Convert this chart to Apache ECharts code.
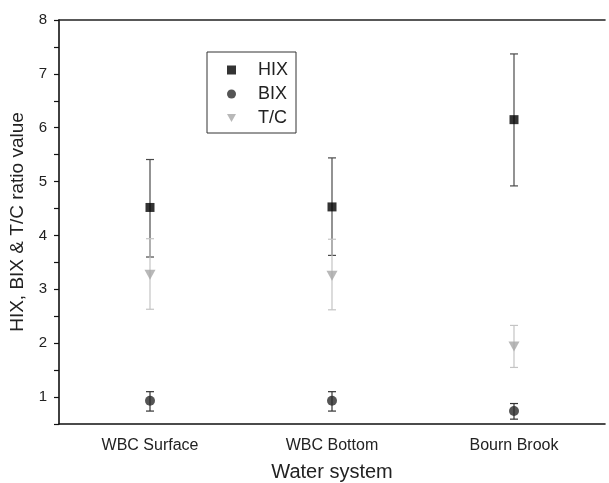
<!DOCTYPE html>
<html>
<head>
<meta charset="utf-8">
<script src="https://cdn.jsdelivr.net/npm/echarts@6/dist/echarts.min.js"></script>
<style>html,body{margin:0;padding:0;background:#fff;}#c{width:609px;height:483px;}</style>
</head>
<body>
<div id="c"></div>
<script>
const categories = ['WBC Surface', 'WBC Bottom', 'Bourn Brook'];
const hix = [4.52, 4.53, 6.15];
const hixLow = [3.60, 3.63, 4.92];
const hixHigh = [5.41, 5.44, 7.37];
const bix = [0.93, 0.93, 0.74];
const bixLow = [0.74, 0.74, 0.59];
const bixHigh = [1.10, 1.10, 0.88];
const tc = [3.27, 3.25, 1.94];
const tcLow = [2.63, 2.62, 1.55];
const tcHigh = [3.94, 3.93, 2.33];
const yTicks = [1, 2, 3, 4, 5, 6, 7, 8];

const FONT = 'Liberation Sans, Arial, sans-serif';
const triPath = 'path://M0,0L10,0L5,9Z';

function errSeries(name, low, high, color) {
  return {
    type: 'custom',
    name: name + ' err',
    xAxisIndex: 0, yAxisIndex: 0,
    silent: true,
    z: 2,
    data: low.map((l, i) => [i, l, high[i]]),
    renderItem: function (params, api) {
      const x = api.value(0);
      const p1 = api.coord([x, api.value(1)]);
      const p2 = api.coord([x, api.value(2)]);
      const hw = 4;
      const st = { stroke: color, lineWidth: 1.2 };
      return {
        type: 'group',
        children: [
          { type: 'line', shape: { x1: p1[0], y1: p1[1], x2: p2[0], y2: p2[1] }, style: st },
          { type: 'line', shape: { x1: p1[0] - hw, y1: p1[1], x2: p1[0] + hw, y2: p1[1] }, style: st },
          { type: 'line', shape: { x1: p2[0] - hw, y1: p2[1], x2: p2[0] + hw, y2: p2[1] }, style: st }
        ]
      };
    }
  };
}

const chart = echarts.init(document.getElementById('c'), null, { renderer: 'canvas' });
chart.setOption({
  animation: false,
  backgroundColor: '#ffffff',
  grid: { left: 59, right: 4, top: 20, bottom: 59, containLabel: false, outerBoundsMode: 'none' },
  legend: {
    orient: 'vertical',
    left: 207, top: 52,
    padding: [9, 8, 6, 20],
    itemWidth: 9, itemHeight: 9,
    itemGap: 6,
    borderColor: '#333', borderWidth: 1,
    textStyle: { fontFamily: FONT, fontSize: 18, color: '#222', padding: [0, 0, 0, 17] },
    data: [
      { name: 'HIX', icon: 'rect' },
      { name: 'BIX', icon: 'circle' },
      { name: 'T/C', icon: triPath }
    ]
  },
  xAxis: [
    {
      type: 'category', data: categories, position: 'bottom', boundaryGap: true,
      name: 'Water system', nameLocation: 'middle', nameGap: 38,
      nameTextStyle: { fontFamily: FONT, fontSize: 20, color: '#222' },
      axisLine: { lineStyle: { color: '#111', width: 1.6 } },
      axisTick: { alignWithLabel: true, length: 7, lineStyle: { color: '#111', width: 1.6 } },
      axisLabel: { fontFamily: FONT, fontSize: 16, color: '#222', margin: 14 },
      splitLine: { show: false }
    },
    {
      type: 'category', data: categories, position: 'bottom', boundaryGap: true,
      axisLine: { show: false },
      axisTick: { length: 4, lineStyle: { color: '#111', width: 1.4 } },
      axisLabel: { show: false },
      splitLine: { show: false }
    },
    {
      type: 'category', data: categories, position: 'top', boundaryGap: true,
      axisLine: { lineStyle: { color: '#222', width: 1.6 } },
      axisTick: { show: false },
      axisLabel: { show: false },
      splitLine: { show: false }
    }
  ],
  yAxis: [{
    type: 'value', min: 0.5, max: 8, interval: 0.5,
    name: 'HIX, BIX & T/C ratio value', nameLocation: 'middle', nameGap: 32,
    nameTextStyle: { fontFamily: FONT, fontSize: 19, color: '#222' },
    axisLine: { show: true, lineStyle: { color: '#111', width: 1.6 } },
    axisTick: { show: true, length: 5, lineStyle: { color: '#111', width: 1.2 } },
    axisLabel: {
      fontFamily: FONT, fontSize: 15, color: '#222', margin: 12,
      formatter: function (v) { return yTicks.indexOf(v) >= 0 ? String(v) : ''; }
    },
    splitLine: { show: false }
  }],
  series: [
    errSeries('HIX', hixLow, hixHigh, '#4a4a4a'),
    errSeries('BIX', bixLow, bixHigh, '#333333'),
    errSeries('T/C', tcLow, tcHigh, '#c4c4c4'),
    {
      name: 'HIX', type: 'scatter', data: hix.map((v, i) => [i, v]),
      symbol: 'rect', symbolSize: 9, itemStyle: { color: '#000' }, z: 5
    },
    {
      name: 'BIX', type: 'scatter', data: bix.map((v, i) => [i, v]),
      symbol: 'circle', symbolSize: 10, itemStyle: { color: '#2a2a2a' }, z: 5
    },
    {
      name: 'T/C', type: 'scatter', data: tc.map((v, i) => [i, v]),
      symbol: triPath, symbolSize: [11, 10], itemStyle: { color: '#a6a6a6' }, z: 5
    }
  ]
});
</script>
</body>
</html>
